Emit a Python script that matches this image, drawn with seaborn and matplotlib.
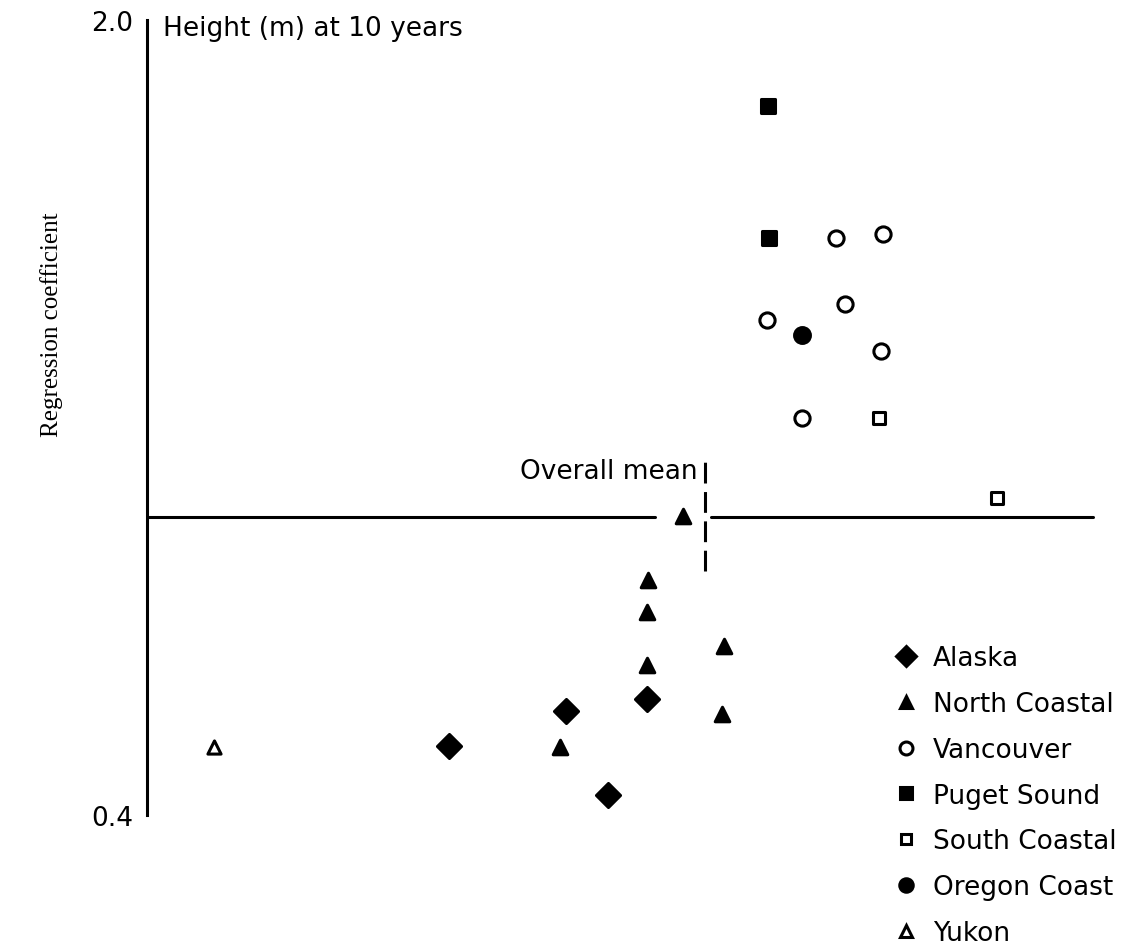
import numpy as np
import pandas as pd
import seaborn as sns
import matplotlib.pyplot as plt
from matplotlib.lines import Line2D

# Datos (x: unidades arbitrarias, y: coeficiente de regresión)
regions = ['Alaska', 'North Coastal', 'Vancouver', 'Puget Sound',
           'South Coastal', 'Oregon Coast', 'Yukon']

alaska_x = [5.00, 4.19, 3.02, 4.61]
alaska_y = [0.633, 0.610, 0.539, 0.441]

north_x = [5.36, 5.01, 5.00, 5.77, 5.00, 5.75, 4.13]
north_y = [1.002, 0.872, 0.808, 0.740, 0.702, 0.603, 0.536]

vancouver_x = [6.89, 7.36, 6.98, 6.20, 7.34, 6.55]
vancouver_y = [1.561, 1.569, 1.428, 1.397, 1.333, 1.200]

puget_x = [6.21, 6.22]
puget_y = [1.826, 1.561]

south_x = [7.32, 8.50]
south_y = [1.199, 1.037]

oregon_x = [6.55]
oregon_y = [1.367]

yukon_x = [0.67]
yukon_y = [0.536]

overall_mean_y = 1.0
overall_mean_x = 5.58

# Construir el DataFrame
frames = []
for name, xs, ys in zip(regions,
                        [alaska_x, north_x, vancouver_x, puget_x, south_x, oregon_x, yukon_x],
                        [alaska_y, north_y, vancouver_y, puget_y, south_y, oregon_y, yukon_y]):
    frames.append(pd.DataFrame({'x': xs, 'y': ys, 'region': name}))
df = pd.concat(frames, ignore_index=True)

# Estilo de marcador por región: (marcador, relleno, tamaño)
marker_style = {
    'Alaska': ('D', 'black', 150),
    'North Coastal': ('^', 'black', 110),
    'Vancouver': ('o', 'white', 120),
    'Puget Sound': ('s', 'black', 95),
    'South Coastal': ('s', 'white', 85),
    'Oregon Coast': ('o', 'black', 130),
    'Yukon': ('^', 'white', 90),
}

sns.set_style('white')
plt.rcParams['font.family'] = ['DejaVu Sans']
plt.rcParams['text.color'] = 'black'
plt.rcParams['axes.labelcolor'] = 'black'
plt.rcParams['ytick.color'] = 'black'

fs = 19

fig = plt.figure(figsize=(11.32, 9.45), dpi=100)
ax = fig.add_axes([147 / 1132, 1 - 816 / 945, 985 / 1132, 795 / 945])

for region in regions:
    m, fc, s = marker_style[region]
    sub = df[df['region'] == region]
    sns.scatterplot(data=sub, x='x', y='y', marker=m, s=s, color=fc,
                    edgecolor='black', linewidth=2.2, ax=ax, legend=False, zorder=3)

# Líneas de la media general
ax.plot([0, 5.08], [overall_mean_y, overall_mean_y], color='black', lw=2.2, zorder=2)
ax.plot([5.64, 9.46], [overall_mean_y, overall_mean_y], color='black', lw=2.2, zorder=2)
ax.plot([overall_mean_x, overall_mean_x], [0.892, 1.111], color='black', lw=2.2,
        dashes=(6.8, 2.8), zorder=2)
ax.text(5.51, 1.092, 'Overall mean', ha='right', va='center', fontsize=fs)

ax.text(0.16, 1.983, 'Height (m) at 10 years', ha='left', va='center', fontsize=fs)

ax.set_xlim(0, 9.85)
ax.set_ylim(0.4, 2.0)
ax.set_xticks([])
ax.set_yticks([0.4, 2.0])
ax.set_yticklabels(['0.4', '2.0'], fontsize=fs)
ax.tick_params(axis='y', length=0, pad=10)
ax.set_xlabel('')
ax.set_ylabel('Regression coefficient', fontsize=18, family='Liberation Serif')
ax.yaxis.set_label_coords(-0.085, 0.618)

for side in ['top', 'right', 'bottom']:
    ax.spines[side].set_visible(False)
ax.spines['left'].set_linewidth(2.2)
ax.spines['left'].set_color('black')

# Leyenda
handles = []
for region in regions:
    m, fc, s = marker_style[region]
    handles.append(Line2D([], [], linestyle='none', marker=m, markersize=np.sqrt(s) * 0.85,
                          markerfacecolor=fc, markeredgecolor='black', markeredgewidth=2.2))
fig.legend(handles, regions, loc='upper left', bbox_to_anchor=(880 / 1132, 1 - 633 / 945),
           frameon=False, fontsize=fs, labelspacing=0.75, handletextpad=0.5,
           borderpad=0, handlelength=1.0)

fig.savefig('out.png', dpi=100, facecolor='white')
